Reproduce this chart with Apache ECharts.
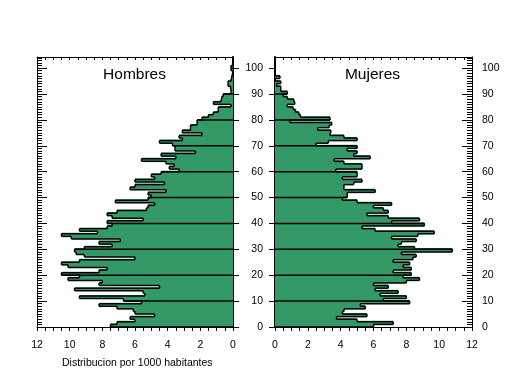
<!DOCTYPE html>
<html>
<head>
<meta charset="utf-8">
<script src="https://cdn.jsdelivr.net/npm/echarts@6/dist/echarts.min.js"></script>
<style>
html, body { margin: 0; padding: 0; background: #fff; }
#chart { width: 509px; height: 376px; }
</style>
</head>
<body>
<div id="chart"></div>
<script>
// distribucion por 1000 habitantes, una barra por edad (0..100)
var hombres = [
  7.5, 7.1, 6.0, 6.3, 4.8, 6.0, 6.1, 7.1, 8.2, 5.6,
  6.7, 9.4, 5.4, 5.5, 9.7, 4.5, 8.2, 8.0, 10.1, 9.4,
  10.5, 8.2, 7.7, 10.1, 10.5, 9.4, 6.0, 9.1, 9.6, 9.7,
  9.1, 7.4, 8.2, 6.9, 9.9, 10.5, 8.3, 9.4, 7.7, 7.4,
  7.7, 5.5, 7.4, 7.7, 7.1, 5.3, 5.2, 4.8, 7.2, 5.2,
  5.0, 5.2, 4.1, 6.3, 6.0, 4.2, 6.0, 4.8, 5.0, 4.4,
  3.3, 3.9, 3.6, 4.1, 5.6, 3.5, 4.4, 2.3, 3.55, 3.55,
  3.7, 4.5, 3.1, 3.3, 1.9, 3.1, 2.6, 2.6, 2.2, 2.2,
  1.9, 1.5, 1.2, 0.9, 0.9, 0.12, 1.2, 0.73, 0.69, 0.6,
  0.12, 0.12, 0.15, 0.3, 0.3, 0.12, 0.08, 0.04, 0, 0.12,
  0.12
];
var mujeres = [
  6.0, 7.2, 5.0, 3.75, 5.6, 4.1, 4.2, 5.5, 5.2, 8.2,
  6.6, 8.0, 6.4, 7.5, 6.1, 6.9, 6.0, 8.0, 8.8, 7.8,
  8.3, 7.2, 8.3, 7.8, 8.2, 7.2, 8.4, 8.6, 7.7, 10.8,
  8.5, 7.5, 7.7, 8.6, 7.1, 8.7, 9.7, 6.1, 5.3, 9.1,
  7.1, 8.8, 6.9, 5.6, 6.9, 6.6, 6.0, 7.1, 5.0, 4.1,
  4.4, 4.4, 6.1, 4.2, 4.2, 4.8, 5.3, 4.1, 5.0, 5.0,
  3.7, 5.3, 5.3, 4.2, 3.6, 5.8, 4.8, 5.0, 4.4, 5.0,
  2.5, 3.25, 5.0, 4.2, 3.35, 3.4, 2.6, 3.3, 3.45, 0.9,
  3.35, 1.55, 1.45, 1.25, 1.1, 0.75, 1.2, 1.15, 0.75, 0.5,
  0.75, 0.35, 0.35, 0.1, 0.35, 0, 0.3, 0, 0, 0,
  0
];
var edadTicks = [0, 10, 20, 30, 40, 50, 60, 70, 80, 90, 100];
var titulos = ['Hombres', 'Mujeres'];
var pie = 'Distribucion por 1000 habitantes';

var VERDE = '#339966';
var YMAX = 104.3;
var FUENTE = 'Liberation Sans';

function toData(vals) {
  var out = [];
  for (var i = 0; i < vals.length; i++) out.push([vals[i], i]);
  return out;
}

// relleno: cada barra se solapa un poco con la de arriba para que no queden rayas
function relleno(params, api) {
  var v = api.value(0), a = api.value(1);
  var p0 = api.coord([0, a]);
  var p1 = api.coord([v, a + 1]);
  var over = params.dataIndex < params.dataInsideLength - 1 ? 1 : 0;
  return {
    type: 'rect',
    shape: { x: Math.min(p0[0], p1[0]), y: p1[1] - over, width: Math.abs(p1[0] - p0[0]), height: p0[1] - p1[1] + over },
    style: { fill: VERDE }
  };
}

function contorno(vals) {
  return function (params, api) {
    var i = params.dataIndex;
    var v = api.value(0), a = api.value(1);
    var prev = i > 0 ? vals[i - 1] : 0;
    var lo = api.coord([v, a]), hi = api.coord([v, a + 1]);
    var pp = api.coord([prev, a]);
    var st = { stroke: '#000', lineWidth: 1.5, fill: null };
    var kids = [
      { type: 'line', shape: { x1: lo[0], y1: lo[1], x2: hi[0], y2: hi[1] }, style: st },
      { type: 'line', shape: { x1: pp[0], y1: lo[1], x2: lo[0], y2: lo[1] }, style: st }
    ];
    if (a % 10 === 0 && a > 0) {
      var z = api.coord([0, a]);
      var far = api.coord([Math.max(prev, v), a]);
      kids.push({ type: 'line', shape: { x1: z[0], y1: z[1], x2: far[0], y2: z[1] }, style: st });
    }
    if (i === vals.length - 1) {
      var zt = api.coord([0, a + 1]);
      kids.push({ type: 'line', shape: { x1: hi[0], y1: hi[1], x2: zt[0], y2: hi[1] }, style: st });
    }
    return { type: 'group', children: kids };
  };
}

function ejeX(grid, pos, inverse) {
  var abajo = pos === 'bottom';
  return {
    type: 'value', gridIndex: grid, position: pos, min: 0, max: 12, interval: 2, inverse: inverse,
    axisLine: { onZero: false, lineStyle: { color: '#000', width: 1 } },
    axisTick: { inside: !abajo, length: abajo ? 4 : 3, lineStyle: { color: '#000' } },
    minorTick: { show: true, splitNumber: 4, length: abajo ? 4 : 3, lineStyle: { color: '#000' } },
    splitLine: { show: false },
    axisLabel: { show: abajo, color: '#000', fontSize: 10.5, fontFamily: FUENTE, margin: 13 }
  };
}

function ejeY(grid, pos, o) {
  return {
    type: 'value', gridIndex: grid, position: pos, min: 0, max: YMAX, interval: o.interval,
    axisLine: { show: o.line, onZero: false, lineStyle: { color: '#000', width: o.lw || 1 } },
    axisTick: { show: true, inside: o.inside, length: o.len, lineStyle: { color: '#000' },
                customValues: o.interval === 10 ? edadTicks : undefined },
    splitLine: { show: false },
    axisLabel: {
      show: !!o.labels, color: '#000', fontSize: 10.5, fontFamily: FUENTE, margin: o.margin || 8,
      formatter: function (v) { return v % 10 === 0 ? String(v) : ''; }
    }
  };
}

var chart = echarts.init(document.getElementById('chart'), null, { renderer: 'canvas' });

var option = {
  animation: false,
  backgroundColor: '#fff',
  grid: [
    { left: 37, top: 57, width: 196, height: 270 },
    { left: 275, top: 57, width: 197, height: 270 }
  ],
  xAxis: [
    ejeX(0, 'bottom', true),
    ejeX(0, 'top', true),
    ejeX(1, 'bottom', false),
    ejeX(1, 'top', false)
  ],
  yAxis: [
    ejeY(0, 'left', { interval: 10, line: true, inside: true, len: 10 }),
    ejeY(0, 'left', { interval: 1, line: false, inside: true, len: 5 }),
    ejeY(0, 'right', { interval: 10, line: true, inside: false, len: 6, lw: 2 }),
    ejeY(1, 'left', { interval: 10, line: true, inside: false, len: 6, lw: 2, labels: true, margin: 12 }),
    ejeY(1, 'right', { interval: 10, line: true, inside: true, len: 10, labels: true, margin: 10 }),
    ejeY(1, 'right', { interval: 1, line: false, inside: true, len: 5 })
  ],
  graphic: [
    { type: 'text', x: 134.5, y: 75, style: { text: titulos[0], fontSize: 15.5, fontFamily: FUENTE, fill: '#000', align: 'center', verticalAlign: 'middle' } },
    { type: 'text', x: 372.5, y: 75, style: { text: titulos[1], fontSize: 15.5, fontFamily: FUENTE, fill: '#000', align: 'center', verticalAlign: 'middle' } },
    { type: 'text', x: 62, y: 363.5, style: { text: pie, fontSize: 10.5, fontFamily: FUENTE, fill: '#000', align: 'left', verticalAlign: 'middle' } }
  ],
  series: [
    { type: 'custom', xAxisIndex: 0, yAxisIndex: 0, data: toData(hombres), renderItem: relleno, encode: { x: 0, y: 1 }, z: 2, clip: false },
    { type: 'custom', xAxisIndex: 0, yAxisIndex: 0, data: toData(hombres), renderItem: contorno(hombres), encode: { x: 0, y: 1 }, z: 3, clip: false },
    { type: 'custom', xAxisIndex: 2, yAxisIndex: 3, data: toData(mujeres), renderItem: relleno, encode: { x: 0, y: 1 }, z: 2, clip: false },
    { type: 'custom', xAxisIndex: 2, yAxisIndex: 3, data: toData(mujeres), renderItem: contorno(mujeres), encode: { x: 0, y: 1 }, z: 3, clip: false }
  ]
};

chart.setOption(option);
</script>
</body>
</html>
